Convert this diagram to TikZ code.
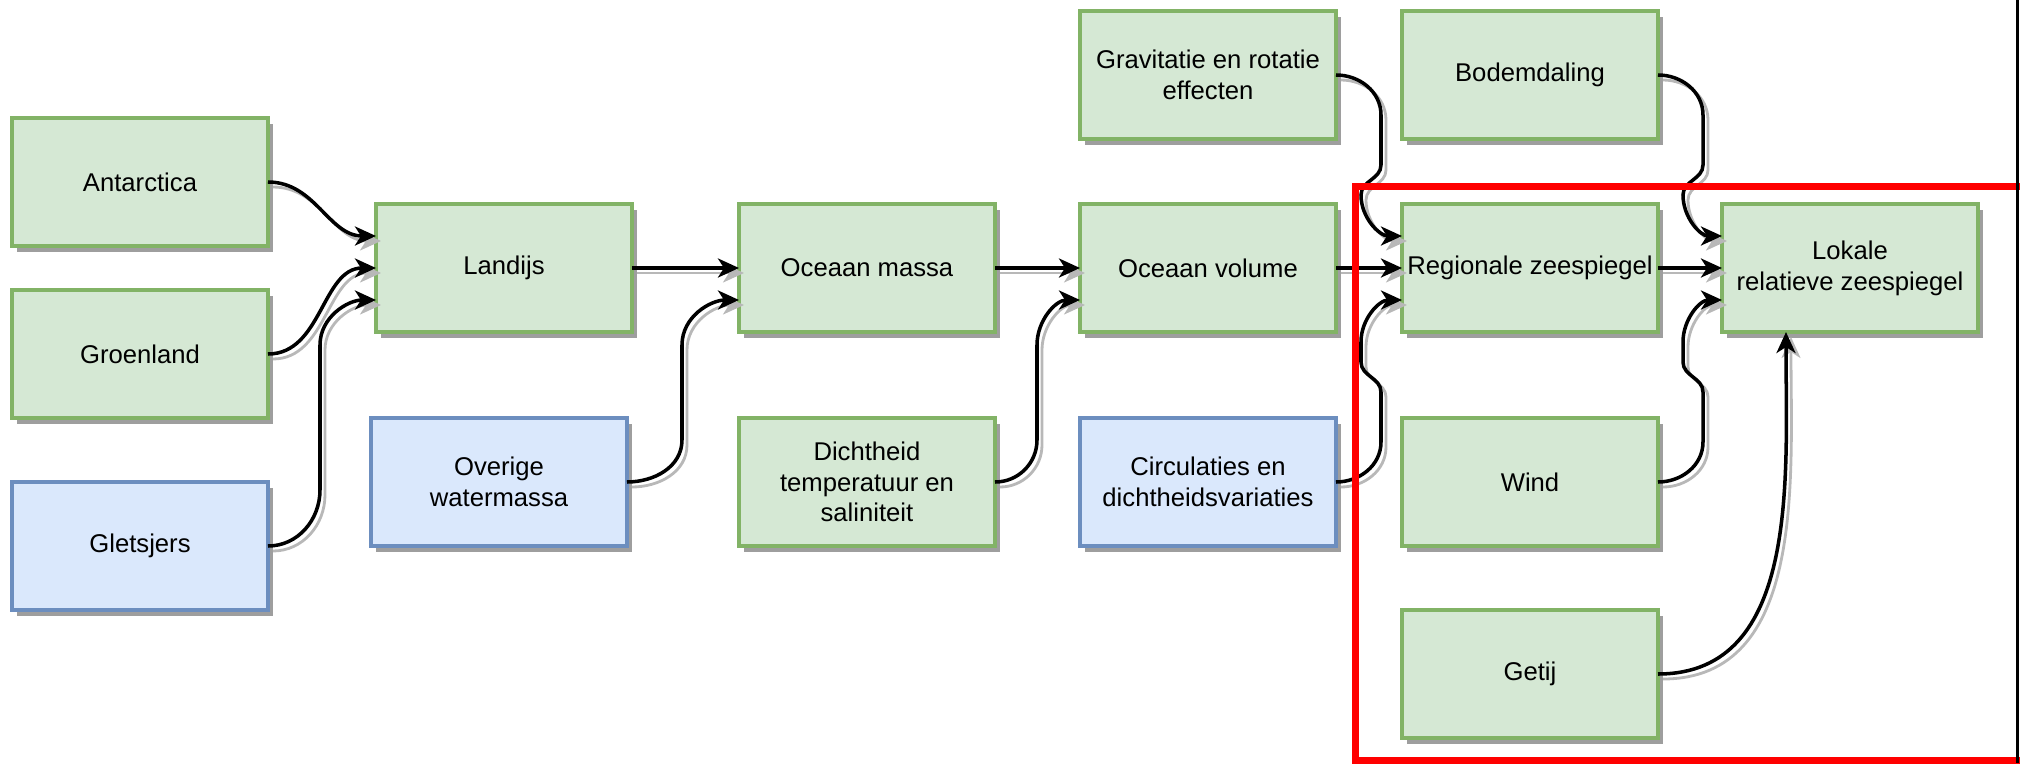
\documentclass[tikz,border=0pt]{standalone}
\usepackage{fontspec}
\setmainfont{Liberation Sans}
\usetikzlibrary{positioning,shadows,arrows.meta}
\definecolor{boxgreen}{HTML}{D5E8D4}
\definecolor{linegreen}{HTML}{82B366}
\definecolor{boxblue}{HTML}{DAE8FC}
\definecolor{lineblue}{HTML}{6C8EBF}

\begin{document}
\begin{tikzpicture}[greenbox/.style={rectangle, draw=linegreen, fill=boxgreen, line width=1.9pt, minimum width=5.12cm, minimum height=2.56cm, inner sep=2pt, outer sep=0pt, align=center, font=\fontsize{14.6}{17.5}\selectfont, drop shadow={shadow xshift=0.1cm, shadow yshift=-0.12cm, fill=black!38, opacity=1}},
    bluebox/.style={greenbox, draw=lineblue, fill=boxblue},
    conn/.style={-{Stealth[length=4.2mm,width=3.8mm,inset=1.2mm]}, line width=2pt, preaction={draw=black!28, line width=1.6pt, transform canvas={shift={(0.1,-0.1)}}}}]
        \useasboundingbox (-10.08,-9.9) rectangle (30.32,5.36);
        \clip (-10.08,-9.9) rectangle (30.32,5.36);
        %Nodes
        \node[greenbox]      (lan)                                   {Landijs};
        \node[greenbox]      (om)     [right=2.14cm of lan]          {Oceaan massa};
        \node[greenbox]      (ov)     [right=1.7cm of om]            {Oceaan volume};
        \node[greenbox]      (reg)    [right=1.32cm of ov]           {Regionale zeespiegel};
        \node[greenbox]      (lok)    [right=1.28cm of reg]          {Lokale\\relatieve zeespiegel};
        \node[greenbox]      (gro)    [left=2.16cm of lan, yshift=-1.72cm] {Groenland};
        \node[greenbox]      (ant)    [above=0.88cm of gro]          {Antarctica};
        \node[bluebox]       (gle)    [below=1.28cm of gro]          {Gletsjers};
        \node[bluebox]       (ove)    [below=1.72cm of lan, xshift=-0.1cm] {Overige\\watermassa};
        \node[greenbox]      (dic)    [below=1.72cm of om]           {Dichtheid\\temperatuur en\\saliniteit};
        \node[bluebox]       (cir)    [below=1.72cm of ov]           {Circulaties en\\dichtheidsvariaties};
        \node[greenbox]      (gra)    [above=1.3cm of ov]            {Gravitatie en rotatie\\effecten};
        \node[greenbox]      (bod)    [above=1.3cm of reg]           {Bodemdaling};
        \node[greenbox]      (wind)   [below=1.72cm of reg]          {Wind};
        \node[greenbox]      (get)    [below=1.28cm of wind]         {Getij};
        %Lines
        \draw[conn] (ant.east) to[out=0,in=180] ([yshift=0.64cm]lan.west);
        \draw[conn] (gro.east) to[out=0,in=180] (lan.west);
        \draw[conn] (gle.east) to[out=0,in=-90] ++(1.04,1.12) -- ++(0,2.9) to[out=90,in=180] ([yshift=-0.64cm]lan.west);
        \draw[conn] (lan) -- (om);
        \draw[conn] (ove.east) to[out=0,in=-90] ++(1.1,0.84) -- ++(0,1.9) to[out=90,in=180] ([yshift=-0.64cm]om.west);
        \draw[conn] (om) -- (ov);
        \draw[conn] (dic.east) to[out=0,in=-90] ++(0.84,0.84) -- ++(0,1.9) to[out=90,in=180] ([yshift=-0.64cm]ov.west);
        \draw[conn] (gra.east) to[out=0,in=90] ++(0.9,-0.8) -- ++(0,-1.0) to[out=-90,in=90] ++(-0.4,-0.6) to[out=-90,in=180] ([yshift=0.64cm]reg.west);
        \draw[conn] (ov) -- (reg);
        \draw[conn] (cir.east) to[out=0,in=-90] ++(0.9,0.8) -- ++(0,1.0) to[out=90,in=-90] ++(-0.4,0.6) -- ++(0,0.4) to[out=90,in=180] ([yshift=-0.64cm]reg.west);
        \draw[conn] (bod.east) to[out=0,in=90] ++(0.9,-0.8) -- ++(0,-1.0) to[out=-90,in=90] ++(-0.4,-0.6) to[out=-90,in=180] ([yshift=0.64cm]lok.west);
        \draw[conn] (reg) -- (lok);
        \draw[conn] (wind.east) to[out=0,in=-90] ++(0.9,0.8) -- ++(0,1.0) to[out=90,in=-90] ++(-0.4,0.6) -- ++(0,0.4) to[out=90,in=180] ([yshift=-0.64cm]lok.west);
        \draw[conn] (get.east) to[out=0,in=-90] ([xshift=-1.28cm]lok.south);
        %Frame
        \draw[red, line width=0.14cm] (30.32,1.63) -- (17.03,1.63) -- (17.03,-9.84) -- (30.32,-9.84);
        \draw[line width=0.06cm] (30.27,5.36) -- (30.27,-9.9);
    \end{tikzpicture}
\end{document}
